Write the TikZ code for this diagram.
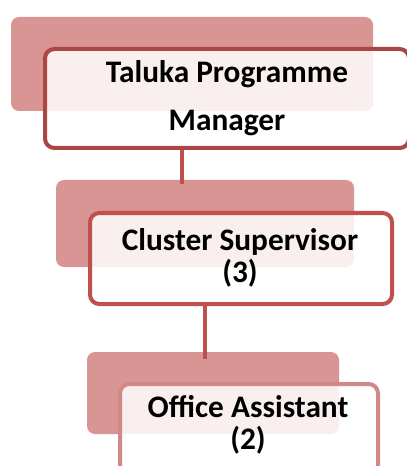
\documentclass[tikz,border=0pt]{standalone}
\usepackage{fontspec}
\setmainfont{Carlito}
\usetikzlibrary{positioning}

\definecolor{backred}{RGB}{217,149,148}
\definecolor{edgeone}{RGB}{170,70,68}
\definecolor{edgetwo}{RGB}{192,80,77}
\definecolor{edgethree}{RGB}{210,136,134}
\definecolor{linkred}{RGB}{192,80,77}

\tikzset{every picture/.style={line width=0.75pt}}
\tikzset{
  backbox/.style={fill=backred, rounded corners=6pt, inner sep=0pt},
  frontbox/.style={fill=white, fill opacity=0.85, rounded corners=7pt, line width=3pt, inner sep=0pt},
  boxtext/.style={font=\bfseries\fontsize{23.5}{24.5}\selectfont, align=center, inner sep=0pt},
  link/.style={draw=linkred, line width=3pt}
}

\begin{document}
\begin{tikzpicture}[x=0.75pt,y=0.75pt,yscale=-1,xscale=1]
\useasboundingbox (0,0) rectangle (406,466);

% back panels
\node[backbox, minimum width=271.5pt, minimum height=70.5pt] (tpmback) at (192,64) {};
\node[backbox, minimum width=223.5pt, minimum height=65.25pt] (csback) at (205,223.5) {};
\node[backbox, minimum width=189pt, minimum height=61.5pt] (oaback) at (213,393) {};

% front boxes
\node[frontbox, draw=edgeone, minimum width=273pt, minimum height=74.25pt] (tpm) at (227,98.5) {};
\node[frontbox, draw=edgetwo, minimum width=226.5pt, minimum height=68.25pt] (cs) at (241,258.5) {};
\node[frontbox, draw=edgethree, minimum width=193.5pt, minimum height=75pt] (oa) at (249,434) {};

% connectors (faint where they run behind a box)
\draw[link, opacity=0.2] ([xshift=-33.75pt, yshift=11.25pt]tpm.south) -- ([xshift=-33.75pt]tpm.south);
\draw[link] ([xshift=-33.75pt]tpm.south) -- ([xshift=-17.25pt, yshift=3.75pt]csback.north);
\draw[link, opacity=0.2] ([xshift=-27pt, yshift=24pt]cs.south) -- ([xshift=-27pt]cs.south);
\draw[link] ([xshift=-27pt]cs.south) -- ([xshift=-6pt, yshift=5.25pt]oaback.north);

% labels
\node[boxtext, text height=16pt, text depth=4pt] (tpmtext) at (227,123) {Taluka Programme\\[12pt]Manager};
\node[boxtext] (cstext) at (240,258) {Cluster Supervisor\\(3)};
\node[boxtext] (oatext) at (248,425) {Office Assistant\\(2)};

\end{tikzpicture}
\end{document}
